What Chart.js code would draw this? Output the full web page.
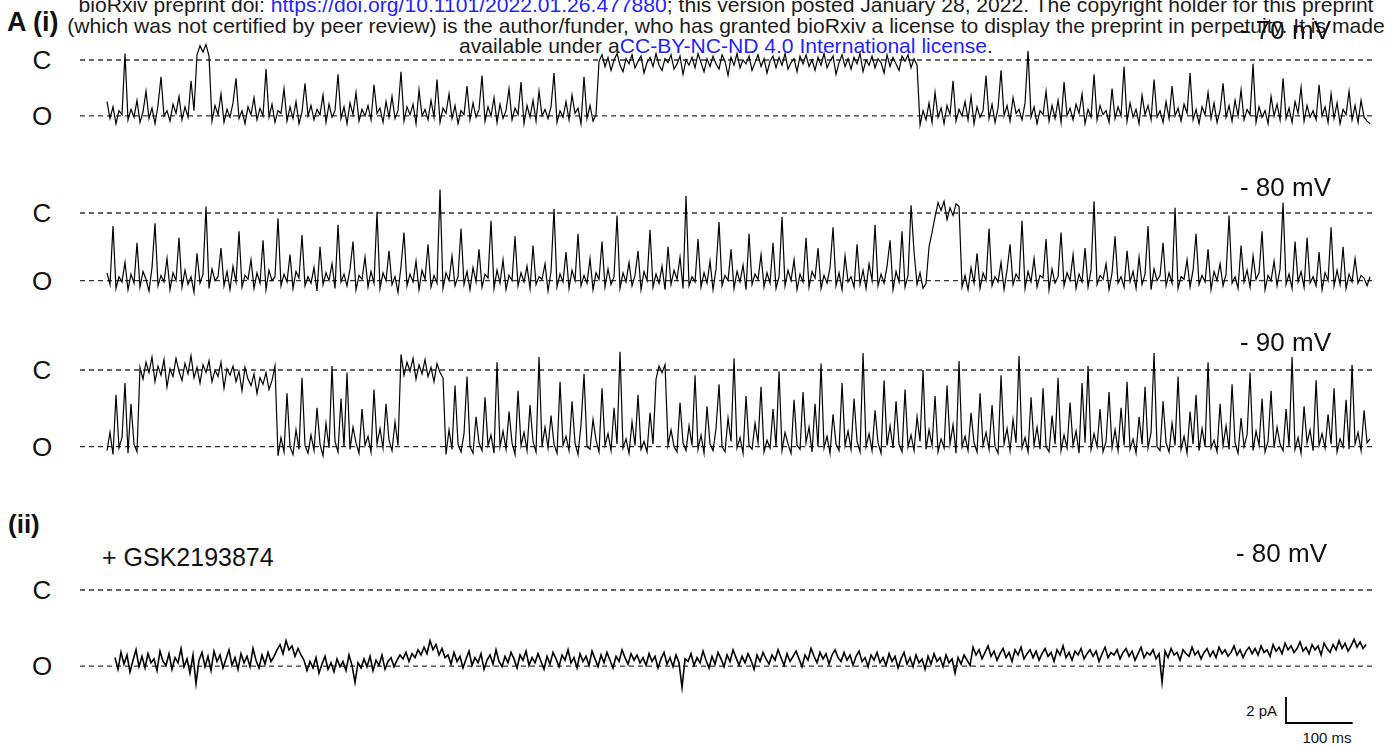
<!DOCTYPE html>
<html>
<head>
<meta charset="utf-8">
<title>Single channel recordings</title>
<script src="https://cdn.jsdelivr.net/npm/chart.js@4.4.1/dist/chart.umd.min.js"></script>
<style>
    html, body { margin: 0; padding: 0; background: #fff; }
    body { width: 1385px; height: 750px; position: relative; overflow: hidden; font-family: 'Liberation Sans', Arial, sans-serif; color: #111; }
    .lbl { position: absolute; white-space: nowrap; }
    #header { position: absolute; left: -274px; width: 2000px; top: -5px; text-align: center; font-size: 21.1px; line-height: 20.5px; white-space: nowrap; color: #1a1a1a; }
    #header a { color: #1f1fff; text-decoration: none; }
</style>
</head>
<body>
<div id="header">
    bioRxiv preprint doi: <a>https://doi.org/10.1101/2022.01.26.477880</a>; this version posted January 28, 2022. The copyright holder for this preprint<br>
    (which was not certified by peer review) is the author/funder, who has granted bioRxiv a license to display the preprint in perpetuity. It is made<br>
    available under a<a>CC-BY-NC-ND 4.0 International license</a>.
</div>
<script>
const DT_MS = 4.5;

// current levels (pA): closed = 0, open level per recording
const closedLevel = 0;
const openLevels = [-4.3, -5.2, -5.9, -5.85];
const levelNames = ['C', 'O'];
const voltageLabels = ['- 70 mV', '- 80 mV', '- 90 mV', '- 80 mV'];
const traceStartMs = [0, 0, 0, 12];

// scale bar
const scaleBarMs = 100;
const scaleBarPA = 2;

// (i) -70 mV
const trace70 = [
    -3.2, -4.5, -3.6, -4.9, -3.9, -4.2, 0.5, -4.6, -3.8, -4.4, -3.1, -4.8, -4.0, -2.4, -4.5, -3.7, -4.9, -3.5, -1.3, -4.3,
    -3.9, -4.7, -3.4, -4.1, -2.8, -4.6, -3.6, -4.4, -1.6, -3.9,
    0.4, 1.1, 0.6, 1.2, 0.3,
    -4.7, -3.5, -4.2, -2.6, -4.8, -3.8, -4.4, -3.3, -1.4, -4.5, -3.9, -4.9, -3.6, -4.2, -2.9, -4.6, -3.7, -4.3, -0.7, -4.4,
    -3.4, -4.8, -3.9, -4.1, -2.2, -4.7, -3.6, -4.5, -3.2, -4.9, -4.0, -1.8, -4.3, -3.5, -4.6, -3.8, -4.2, -2.7, -4.8, -3.4,
    -4.4, -3.9, -1.1, -4.5, -3.6, -4.9, -3.3, -4.2, -2.5, -4.7, -3.8, -4.3, -3.5, -4.6, -1.9, -4.1, -3.7, -4.8, -3.2, -4.4,
    -2.8, -4.5, -3.9, -0.9, -4.7, -3.6, -4.2, -3.4, -4.9, -2.3, -4.3, -3.8, -4.6, -3.1, -4.4, -1.5, -4.8, -3.7, -4.1, -2.6,
    -4.5, -3.5, -4.9, -3.9, -4.2, -2.0, -4.6, -3.3, -4.4, -3.8, -1.2, -4.7, -3.6, -4.3, -2.9, -4.8, -3.4, -4.5, -3.9, -2.2,
    -4.6, -3.7, -4.2, -1.7, -4.9, -3.5, -4.4, -3.1, -4.7, -2.4, -4.3, -3.8, -4.5, -3.6, -1.0, -4.8, -3.9, -4.4, -3.2, -4.6,
    -2.7, -4.1, -3.7, -4.9, -1.3, -4.5, -3.5, -4.7, -4.2,
    -0.1, 0.4, -0.5, 0.2, -0.8, 0.0, 0.5, -0.4, -0.9, 0.1, -0.3, 0.4, -0.6, -0.1, 0.3, -1.0, -0.2, 0.2, -0.5, 0.5,
    -0.4, -0.8, 0.1, -0.2, 0.4, -0.7, -0.3, 0.3, -1.1, 0.0, -0.4, 0.2, -0.6, 0.5, -0.2, -0.9, 0.1, -0.5, 0.3, -0.3,
    -0.7, 0.4, -0.1, -1.2, 0.2, -0.4, 0.5, -0.6, 0.0, -0.3, 0.3, -0.8, -0.2, 0.4, -0.5, 0.1, -1.0, -0.1, 0.3, -0.6,
    0.2, -0.4, 0.5, -0.7, -0.2, 0.1, -0.9, 0.3, -0.3, 0.4, -0.5, 0.0, -0.8, 0.2, -0.4, 0.5, -0.6, -0.1, 0.3, -1.1,
    -0.2, 0.4, -0.5, 0.1, -0.7, 0.2, -0.3, 0.5, -0.9, 0.0, -0.4, 0.3, -0.6, 0.1, -0.2, -1.0, 0.4, -0.5, 0.2, -0.3,
    -0.8, 0.3, -0.1, 0.4, -0.6, 0.1, -0.4,
    -5.0, -3.9, -4.6, -3.3, -4.8, -2.5, -4.4, -3.7, -4.9, -3.5, -4.2, -1.6, -4.7, -3.8, -4.3, -3.2, -4.6, -2.8, -4.9, -3.6,
    -4.4, -3.9, -1.2, -4.5, -3.4, -4.8, -3.7, -0.8, -4.3, -3.5, -4.7, -2.9, -4.1, -3.8, -4.6, -3.3, 0.7, -4.4, -3.6, -4.9,
    -3.9, -4.2, -2.4, -4.7, -3.5, -4.5, -3.1, -4.8, -1.7, -4.3, -3.7, -4.6, -3.4, -4.1, -2.6, -4.9, -3.8, -4.4, -1.1, -4.6,
    -3.5, -4.2, -3.9, -4.8, -2.2, -4.5, -3.6, -4.3, -0.5, -4.7, -3.3, -4.4, -3.8, -4.9, -2.7, -4.2, -3.5, -4.6, -1.5, -4.4,
    -3.9, -4.8, -3.2, -4.5, -2.0, -4.3, -3.7, -4.7, -3.4, -4.1, -1.0, -4.6, -3.8, -4.9, -3.6, -4.2, -2.5, -4.5, -3.3, -4.8,
    -3.9, -1.8, -4.4, -3.5, -4.7, -3.1, -4.3, -2.3, -4.6, -3.8, -4.2, -0.3, -4.8, -3.6, -4.4, -3.9, -4.9, -2.8, -4.3, -3.4,
    -4.6, -1.4, -4.5, -3.7, -4.8, -3.2, -4.1, -2.1, -4.7, -3.5, -4.4, -3.9, -4.6, -1.9, -4.3, -3.6, -4.8, -2.6, -4.5, -3.3,
    -4.9, -3.8, -4.2, -2.4, -4.6, -3.5, -4.8, -3.1, -4.4, -4.7, -4.9
];

// (i) -80 mV
const trace80 = [
    -4.6, -5.5, -1.0, -5.8, -4.9, -5.3, -3.8, -5.9, -4.7, -5.4, -2.3, -5.7, -4.5, -5.1, -6.0, -4.2, -0.8, -5.6, -4.8, -5.3,
    -3.5, -5.9, -4.6, -5.2, -1.9, -5.7, -4.4, -5.5, -4.9, -6.1, -3.1, -5.4, -4.7, 0.5, -5.8, -4.3, -5.2, -4.9, -2.7, -5.6,
    -4.5, -5.9, -4.1, -5.3, -1.4, -5.7, -4.8, -5.1, -3.6, -5.8, -4.6, -5.4, -2.1, -5.9, -4.4, -5.2, -4.9, -0.4, -5.6, -4.7,
    -5.3, -3.2, -5.8, -4.5, -5.0, -1.7, -5.6, -4.9, -5.4, -4.2, -6.0, -2.6, -5.5, -4.6, -5.2, -3.9, -5.8, -0.9, -5.3, -4.7,
    -5.6, -4.3, -2.2, -5.9, -4.8, -5.1, -3.4, -5.7, -4.5, -5.4, 0.1, -5.8, -4.6, -5.2, -2.9, -5.5, -4.9, -6.1, -4.1, -1.5,
    -5.6, -4.7, -5.3, -3.7, -5.9, -4.4, -5.1, -2.4, -5.7, -4.8, -5.4, 1.8, -5.8, -4.6, -5.2, -3.3, -5.6, -4.9, -1.2, -5.5,
    -4.5, -5.9, -4.2, -5.3, -2.8, -5.7, -4.7, -5.0, -0.6, -5.8, -4.4, -5.4, -3.6, -5.9, -4.8, -5.2, -1.8, -5.6, -4.6, -5.3,
    -4.1, -5.8, -2.5, -5.5, -4.9, -5.1, -3.9, -6.0, -4.5, 0.3, -5.7, -4.7, -5.3, -3.0, -5.8, -4.4, -5.2, -1.6, -5.6, -4.8,
    -5.4, -3.5, -5.9, -4.6, -5.1, -2.2, -5.7, -4.3, -5.5, -4.9, -0.2, -5.8, -4.6, -5.3, -3.8, -5.6, -4.8, -2.9, -5.9, -4.5,
    -5.2, -1.3, -5.7, -4.7, -5.4, -4.1, -5.9, -2.6, -5.5, -4.4, -5.1, -3.4, -5.8, 1.3, -5.6, -4.9, -5.3, -2.0, -5.7, -4.6,
    -5.4, -3.7, -5.9, -4.3, -0.7, -5.6, -4.8, -5.2, -2.8, -5.8, -4.5, -5.3, -4.0, -5.9, -1.6, -5.5, -4.7, -5.1, -3.2, -5.7,
    -4.6, -5.4, -2.3, -5.8, -4.9, -0.3, -5.6, -4.4, -5.2, -3.6, -5.9, -4.7, -5.3, -1.9, -5.7, -4.5, -5.0, -2.7, -5.8, -4.8,
    -5.4, -4.2, -1.1, -5.6, -4.6, -5.9, -3.3, -5.3, -4.9, -5.7, -2.4, -5.5, -4.4, -5.8, -3.9, -5.2, -0.9, -5.6, -4.7, -5.4,
    -4.1, -2.1, -5.9, -4.5, -5.3, -1.4, -5.7, -4.8, 0.6, -3.0, -5.5, -4.6, -5.8, -5.4, -2.6, -1.5, -0.3,
    0.8, 0.2, 0.9, -0.5, 0.4, -0.2, 0.7,
    0.5, -5.7, -4.8, -5.9, -4.2, -5.4, -3.1, -5.8, -4.6, -5.2, -1.2, -5.6, -4.9, -5.3, -3.8, -5.9, -4.4, -2.4, -5.5, -4.7,
    -5.1, -0.6, -5.8, -4.5, -5.3, -3.5, -5.7, -4.8, -5.0, -2.0, -5.9, -4.3, -5.4, -4.9, -1.5, -5.6, -4.6, -5.2, -3.2, -5.8,
    -4.7, -5.3, -2.7, -5.7, -4.4, 0.9, -5.5, -4.8, -5.1, -3.9, -5.9, -4.6, -1.8, -5.4, -4.9, -5.7, -2.9, -5.3, -4.5, -5.8,
    -3.4, -5.5, -4.7, -1.0, -5.9, -4.3, -5.2, -4.8, -2.3, -5.6, -4.6, -5.4, 0.4, -5.8, -4.9, -5.1, -3.6, -5.7, -4.4, -1.6,
    -5.5, -4.8, -5.3, -2.8, -5.9, -4.5, -5.2, -3.9, -5.6, -4.7, -0.2, -5.4, -4.9, -5.8, -2.5, -5.3, -4.4, -5.7, -3.3, -5.1,
    -4.6, -1.4, -5.9, -4.8, -5.2, -3.7, -5.6, -4.3, 0.8, -5.5, -4.7, -5.8, -2.2, -5.3, -4.5, -5.7, -1.9, -5.4, -4.9, -5.6,
    -3.0, -5.9, -4.6, -5.2, -1.1, -5.6, -4.4, -5.5, -2.6, -5.8, -4.7, -5.3, -3.5, -5.4, -4.8, -5.0, -5.6, -4.9
];

// (i) -90 mV
const trace90 = [
    -6.2, -4.8, -6.5, -1.9, -6.0, -5.2, -1.0, -6.4, -2.6, -5.7, -6.3,
    0.2, -0.7, 0.6, -0.2, 1.0, -0.9, 0.3, -0.4, 0.8, -1.3, 0.1, -0.5, 0.9, -0.1, -0.8, 0.5, -0.3, 1.1, -0.6, 0.2,
    -1.0, 0.4, -0.2, 0.7, -0.9, 0.0, -0.5, 0.6, -1.4, 0.1, -0.4, 0.3, -0.9, -0.1, -1.6, 0.2, -0.7, -1.2, -0.3, -1.8,
    -0.6, -1.1, -0.2, -1.5, -0.8, 0.3,
    -6.6, -5.2, -6.3, -1.8, -5.9, -6.5, -4.6, -6.1, -0.6, -5.8, -6.4, -5.0, -6.2, -2.9, -5.7, -6.6, -4.1, -6.0, 0.3, -5.5,
    -6.3, -2.2, -5.9, -0.2, -6.1, -4.4, -5.6, -6.4, -3.0, -5.8, -5.1, -6.3, -1.5, -5.7, -4.5, -6.0, -2.6, -5.4, -6.2, -4.0,
    -5.8,
    1.2, -0.4, 0.6, -0.1, 0.9, -0.7, 0.4, -0.3, 0.8, -0.5, 0.2, -0.9, 0.5, -0.2, -0.6,
    -6.5, -4.6, -6.1, -1.2, -5.7, -6.3, -4.9, -0.5, -5.9, -6.4, -3.6, -5.6, -6.2, -2.1, -5.8, -5.0, -6.4, 0.6, -5.9, -4.7,
    -6.1, -3.2, -5.6, -6.5, -1.6, -5.8, -4.8, -6.2, -2.7, -5.5, -6.3, 1.0, -5.9, -4.4, -6.0, -3.5, -5.7, -6.4, -0.9, -5.8,
    -5.1, -6.2, -2.4, -5.6, -6.5, -4.2, -0.3, -5.9, -6.1, -3.8, -5.4, -6.3, -1.4, -5.8, -4.9, -6.2, -2.9, -5.7, 1.4, -6.0,
    -5.3, -6.4, -4.0, -5.8, -1.9, -6.1, -5.5, -6.3, -3.3, -5.7, -0.7, 0.3, -0.2, 0.4, -5.8, -4.6, -5.9, -6.3, -2.5, -5.6,
    -6.2, -4.3, -5.8, -0.4, -6.1, -5.0, -6.4, -2.8, -5.7, -6.2, -4.5, -1.1, -5.9, -6.3, -3.7, -5.5, 0.9, -6.0, -5.2, -6.4,
    -2.0, -5.8, -6.1, -4.1, -5.6, -1.3, -6.3, -5.4, -6.0, -3.0, -5.9, -0.1, -6.2, -4.8, -5.7, -6.4, -2.3, -5.8, -6.1, -1.7,
    -5.6, -4.4, -6.3, -2.6, -5.9, 0.5, -6.0, -5.1, -6.4, -3.4, -5.7, -6.2, -1.0, -5.8, -4.7, -6.1, -2.2, -5.5, -6.3, 1.3,
    -5.9, -4.9, -6.2, -3.1, -5.6, -6.4, -0.8, -5.8, -4.3, -6.0, -2.4, -5.7, -6.3, -1.5, -5.9, -5.0, -6.2, -3.6, -5.5, 0.0,
    -6.1, -4.6, -5.8, -2.0, -6.3, -5.3, -6.0, -1.2, -5.7, -4.2, -6.4, 0.7, -5.9, -5.1, -6.2, -3.3, -5.6, -6.3, -1.8, -5.8,
    -4.8, -6.1, -2.7, -5.9, -6.4, -0.4, -5.7, -4.5, -6.2, -3.8, -5.6, 1.1, -6.0, -5.2, -6.3, -2.1, -5.8, -4.4, -6.1, -1.4,
    -5.9, -6.3, -3.5, -5.7, -0.6, -6.2, -5.0, -6.0, -2.5, -5.8, -4.7, -6.4, -1.0, -5.6, 0.3, -6.1, -4.9, -5.9, -3.0, -6.3,
    -5.5, -1.7, -6.0, -4.6, -6.2, -2.9, -5.8, -0.9, -6.1, -5.3, -6.4, -3.6, -5.7, -1.3, -6.0, -4.8, 1.3, -5.9, -6.2, -2.4,
    -5.6, -6.3, -4.1, -5.8, -0.5, -6.1, -5.1, -6.4, -3.2, -5.7, -1.9, -6.2, -4.5, -5.9, 0.6, -6.0, -5.4, -6.3, -2.6, -5.8,
    -4.3, -6.1, -1.1, -5.6, -6.4, -3.7, -5.9, -5.0, -0.2, -6.2, -4.7, -5.8, -2.2, -6.3, -5.5, -1.6, -6.0, -4.4, -5.7, -6.2,
    -3.0, -5.9, 1.0, -6.1, -5.2, -6.4, -2.8, -5.6, -4.6, -6.2, -0.8, -5.8, -4.9, -6.0, -3.4, -5.7, -1.4, -6.3, -5.3, -5.9,
    -2.3, -6.1, 0.4, -5.7, -4.8, -6.2, -3.1, -5.6, -5.3
];

// (ii) + GSK2193874, -80 mV
const traceGSK = [
    -5.2, -6.1, -4.8, -5.7, -5.0, -6.3, -5.4, -4.6, -5.9, -5.1, -6.0, -4.9, -5.6, -5.3, -6.2, -4.7, -5.5, -5.8, -4.9, -6.1,
    -5.2, -5.6, -4.5, -5.9, -5.3, -6.4, -5.0,
    -7.2,
    -5.4, -4.8, -5.9, -5.1, -6.2, -4.7, -5.5, -5.0, -6.0, -5.3, -4.6, -5.8, -5.2, -6.1, -4.9, -5.6, -5.1, -5.9, -4.5, -5.4,
    -6.0, -5.0, -5.7, -4.8, -5.5, -5.1, -4.6,
    -4.2, -4.9, -3.9, -4.6, -4.3, -5.1, -4.5, -5.0,
    -5.4, -6.2, -5.5, -6.0, -5.2, -6.4, -5.7, -5.1, -6.1, -5.6, -6.3, -5.3, -5.9, -5.5, -6.2, -5.0, -5.8, -7.1, -5.6, -6.0,
    -5.3, -5.9, -5.1, -6.2, -5.4, -5.8, -5.0, -6.1, -5.5, -5.2, -5.9, -5.4, -5.0,
    -5.3, -4.8, -5.5, -4.9, -5.2, -4.6, -5.0, -4.4, -4.9, -3.9, -4.6, -4.2, -5.0, -4.5, -5.2,
    -5.0, -5.7, -4.8, -5.5, -5.1, -6.0, -5.3, -4.7, -5.8, -5.2, -5.6, -4.9, -6.1, -5.4, -5.0, -5.7, -4.6, -5.5, -5.9, -5.1,
    -5.6, -4.8, -5.3, -6.0, -5.0, -5.4, -4.7, -5.8, -5.2, -5.6, -4.9, -5.5, -6.1, -5.1, -5.7, -4.8, -5.3, -5.9, -5.0, -5.4,
    -4.6, -5.6, -5.2, -6.0, -4.9, -5.5, -5.1, -5.8, -4.7, -5.3, -5.9, -5.0, -5.6, -4.8, -5.4, -6.0, -5.1, -5.5, -4.6, -5.2,
    -5.7, -4.9, -5.4, -5.0, -5.6,
    -5.2, -5.8, -4.9, -5.5, -5.1, -6.0, -5.3, -4.8, -5.7, -5.2, -5.9, -5.0, -5.6, -7.5, -5.3,
    -5.5, -4.9, -5.8, -5.2, -5.6, -4.7, -5.4, -6.0, -5.1, -5.7, -4.8, -5.3, -5.9, -5.0, -5.5, -4.6, -5.2, -5.8, -5.1, -5.6,
    -4.9, -5.4, -6.1, -5.0, -5.5, -4.8, -5.3, -5.7, -5.0, -5.4, -4.6, -5.2, -5.8, -4.9, -5.5, -5.1, -4.7, -5.3, -5.9, -5.0,
    -5.4, -4.5, -5.1, -5.6, -4.8, -5.3, -4.9, -5.7, -5.0, -4.6, -5.2, -5.5, -4.8, -5.4, -5.0, -5.8, -5.1, -4.7, -5.5, -5.2,
    -5.9, -5.0, -5.4, -4.8, -5.6, -5.2, -5.8, -4.9, -5.5, -5.1, -6.0, -5.3, -4.8, -5.7, -5.2, -5.9, -5.0, -5.6, -5.3, -6.1,
    -5.1, -5.7, -4.9, -5.5, -5.2, -5.9, -5.0, -5.6, -5.3, -6.4, -5.2, -5.7, -5.0, -5.4, -5.8,
    -4.4, -5.0, -4.6, -5.3, -4.8, -4.3, -5.1, -4.7, -5.4, -4.9, -4.5, -5.2, -4.8, -5.5, -4.6, -5.0, -4.4, -5.3, -4.9, -4.6,
    -5.2, -4.7, -5.4, -4.9, -4.5, -5.1, -4.8, -5.5, -4.6, -5.0, -4.3, -5.2, -4.8, -5.4, -4.7, -5.0, -4.5, -5.3, -4.9, -4.6,
    -5.1, -4.7, -5.5, -4.9, -4.4, -5.2, -4.8, -5.0, -4.6, -5.3, -4.8, -4.5, -5.1, -4.7, -5.4, -4.9, -4.4, -5.2, -4.8, -5.0,
    -4.6, -5.3, -4.9, -7.1, -4.7, -5.2, -4.5, -5.0, -4.8, -5.4, -4.6, -4.9, -5.1, -4.4, -5.0, -4.7, -5.3, -4.8, -4.5, -5.1,
    -4.7, -5.2, -4.4, -4.9, -4.6, -5.1, -4.8, -4.3, -5.0, -4.6, -5.2, -4.7, -4.4, -4.9, -4.5, -5.0, -4.3, -4.8, -4.6, -5.1,
    -4.2, -4.7, -4.4, -4.9, -4.1, -4.6, -4.3, -4.8, -4.5, -4.0, -4.7, -4.4, -4.9, -4.2, -4.6, -4.3, -5.0, -4.1, -4.5, -4.8,
    -4.2, -4.6, -3.9, -4.5, -4.1, -4.7, -4.3, -3.8, -4.4, -4.0, -4.5, -4.2
];

const traces = [trace70, trace80, trace90, traceGSK];

// page layout (px)
const PX_PER_MS = 0.6667;
const PX_PER_PA = 13;
const TRACE_LEFT = 107;
const CANVAS_LEFT = 78;
const CANVAS_W = 1302;
const DASH_LEFT = 80;
const DASH_RIGHT = 1375;
const panels = [
    { closedY: 60, top: 20, height: 125, labelY: 30, labelRight: 1331 },
    { closedY: 213, top: 173, height: 135, labelY: 187, labelRight: 1331 },
    { closedY: 370, top: 330, height: 145, labelY: 342, labelRight: 1331 },
    { closedY: 590, top: 550, height: 190, labelY: 553, labelRight: 1327 }
];
const scaleBarAnchor = { x: 1286, y: 723 };

function addLabel(text, x, y, size, opts = {}) {
    const div = document.createElement('div');
    div.className = 'lbl';
    div.textContent = text;
    div.style.fontSize = size + 'px';
    div.style.lineHeight = size + 'px';
    div.style.top = (y - 0.49 * size) + 'px';
    if (opts.bold) div.style.fontWeight = 'bold';
    if (opts.align === 'right') {
        div.style.right = (1385 - x) + 'px';
    } else if (opts.align === 'center') {
        div.style.left = x + 'px';
        div.style.transform = 'translateX(-50%)';
    } else {
        div.style.left = x + 'px';
    }
    document.body.appendChild(div);
}

function msAt(px) {
    return (px - TRACE_LEFT) / PX_PER_MS;
}

function renderTrace(i) {
    const panel = panels[i];
    const canvas = document.createElement('canvas');
    canvas.width = CANVAS_W;
    canvas.height = panel.height;
    canvas.style.cssText = `position:absolute;left:${CANVAS_LEFT}px;top:${panel.top}px;`;
    document.body.appendChild(canvas);

    const yMax = (panel.closedY - panel.top) / PX_PER_PA;
    const yMin = yMax - panel.height / PX_PER_PA;
    const xMin = msAt(CANVAS_LEFT);
    const xMax = msAt(CANVAS_LEFT + CANVAS_W);

    const points = traces[i].map((v, k) => ({ x: traceStartMs[i] + k * DT_MS, y: v }));
    const dashLine = level => [{ x: msAt(DASH_LEFT), y: level }, { x: msAt(DASH_RIGHT), y: level }];

    const datasets = [
        { data: points, borderColor: '#000', borderWidth: i === 3 ? 1.6 : 1.2 },
        { data: dashLine(closedLevel), borderColor: '#333', borderWidth: 1.3, borderDash: [5, 4] },
        { data: dashLine(openLevels[i]), borderColor: '#333', borderWidth: 1.3, borderDash: [5, 4] }
    ];

    if (i === 3) {
        const bx = msAt(scaleBarAnchor.x);
        const by = (panel.closedY - scaleBarAnchor.y) / PX_PER_PA;
        datasets.push({
            data: [{ x: bx, y: by + scaleBarPA }, { x: bx, y: by }, { x: bx + scaleBarMs, y: by }],
            borderColor: '#000', borderWidth: 1.8
        });
    }

    new Chart(canvas.getContext('2d'), {
        type: 'line',
        data: {
            datasets: datasets.map(d => Object.assign({ pointRadius: 0, tension: 0, fill: false, clip: false }, d))
        },
        options: {
            responsive: false,
            animation: false,
            events: [],
            layout: { padding: 0 },
            plugins: { legend: { display: false }, tooltip: { enabled: false } },
            scales: {
                x: { type: 'linear', display: false, min: xMin, max: xMax },
                y: { type: 'linear', display: false, min: yMin, max: yMax }
            }
        }
    });

    // level names and voltage
    const openY = panel.closedY - openLevels[i] * PX_PER_PA;
    addLabel(levelNames[0], 42, panel.closedY, 26, { align: 'center' });
    addLabel(levelNames[1], 42, openY, 26, { align: 'center' });
    addLabel(voltageLabels[i], panel.labelRight, panel.labelY, 26, { align: 'right' });
}

addLabel('A (i)', 7, 22, 27, { bold: true });
addLabel('(ii)', 8, 524, 26, { bold: true });
addLabel('+ GSK2193874', 102, 557, 25);
addLabel(scaleBarPA + ' pA', 1277, 710, 15, { align: 'right' });
addLabel(scaleBarMs + ' ms', 1327, 737, 15, { align: 'center' });

panels.forEach((p, i) => renderTrace(i));
</script>
</body>
</html>
